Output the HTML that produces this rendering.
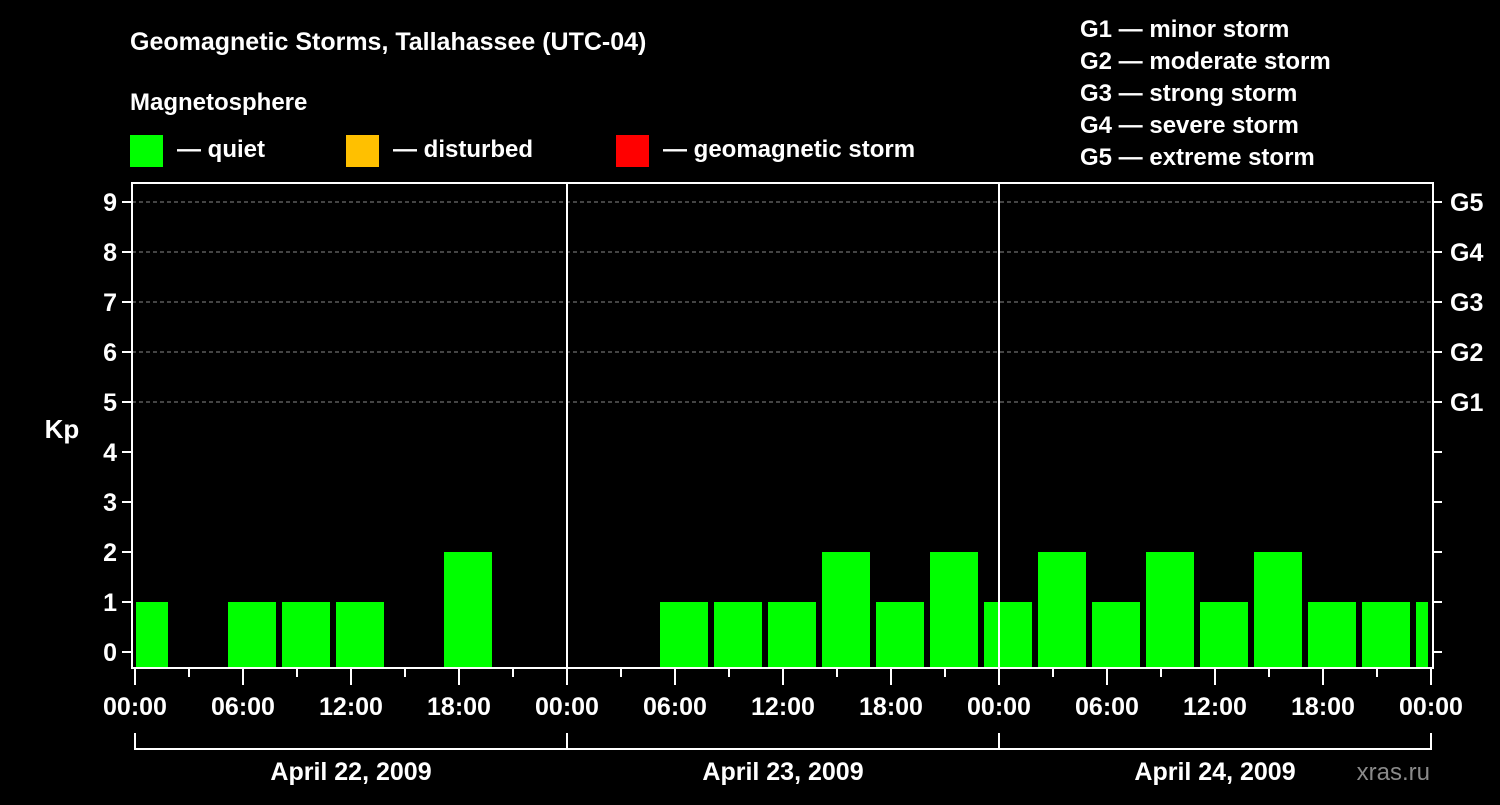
<!DOCTYPE html>
<html><head><meta charset="utf-8"><style>
body{margin:0;background:#000;width:1500px;height:800px;overflow:hidden}
svg text{font-family:"Liberation Sans",sans-serif;font-weight:bold;fill:#fff}
</style></head><body>
<svg id="c" width="1500" height="800" xmlns="http://www.w3.org/2000/svg">
<rect width="1500" height="800" fill="#000"/>
<text x="130" y="50" font-size="25">Geomagnetic Storms, Tallahassee (UTC-04)</text>
<text x="130" y="110" font-size="24">Magnetosphere</text>
<g><rect x="130" y="135" width="33" height="32" fill="#00ff00"/><text x="177" y="157" font-size="24">— quiet</text></g>
<g><rect x="346" y="135" width="33" height="32" fill="#ffc000"/><text x="393" y="157" font-size="24">— disturbed</text></g>
<g><rect x="616" y="135" width="33" height="32" fill="#ff0000"/><text x="663" y="157" font-size="24">— geomagnetic storm</text></g>
<g font-size="24">
<text x="1080" y="37">G1 — minor storm</text>
<text x="1080" y="69">G2 — moderate storm</text>
<text x="1080" y="101">G3 — strong storm</text>
<text x="1080" y="133">G4 — severe storm</text>
<text x="1080" y="165">G5 — extreme storm</text>
</g>
<g id="plot"></g>
<text x="62" y="438" font-size="26" text-anchor="middle">Kp</text>
<text x="1430" y="780" font-size="24" text-anchor="end" fill="#888" style="fill:#8a8a8a;font-weight:normal">xras.ru</text>
</svg>
<script>
// Kp values per 3h slot; slot i starts at local hour -1 + 3*i on April 22 (UTC-04)
const kpValues=[1,null,1,1,1,null,2,null,null,null,1,1,1,2,1,2,1,2,1,2,1,2,1,1,1];
const dayLabels=["April 22, 2009","April 23, 2009","April 24, 2009"];
const timeLabels=["00:00","06:00","12:00","18:00"];
const yTicks=[0,1,2,3,4,5,6,7,8,9];
const gLabels=["G1","G2","G3","G4","G5"];
const slotStartHour=-1, slotHours=3;

const NS="http://www.w3.org/2000/svg";
const g=document.getElementById('plot');
const X0=135,PXH=18,L=132,R=1433,T=183,B=668;
const xs=h=>X0+h*PXH;
const ys=v=>652-v*50;
const totalH=dayLabels.length*24;
function mk(tag,at,parent){const e=document.createElementNS(NS,tag);for(const k in at)e.setAttribute(k,at[k]);(parent||g).appendChild(e);return e;}

// gridlines
yTicks.forEach(v=>{if(v>=5){const l=mk('line',{x1:L,x2:R,y1:ys(v),y2:ys(v),stroke:'#888','stroke-dasharray':'4,3','stroke-width':1});

}});
// bars
kpValues.forEach((v,i)=>{if(v===null)return;
 let h0=Math.max(0,slotStartHour+i*slotHours),h1=Math.min(totalH,slotStartHour+(i+1)*slotHours);
 let x0=xs(h0)+(h0===0?1:3),x1=xs(h1)-3;
 const r=mk('rect',{x:x0,y:ys(v),width:x1-x0,height:B-ys(v),fill:'#00ff00'});
 
 });
// day separators
for(let d=1;d<dayLabels.length;d++){const l=mk('line',{x1:xs(d*24),x2:xs(d*24),y1:T,y2:B,stroke:'#fff','stroke-width':2});
 
 }
// frame
const fr=mk('rect',{x:L,y:T,width:R-L,height:B-T,fill:'none',stroke:'#fff','stroke-width':2});


// y ticks and labels
yTicks.forEach(v=>{
 mk('line',{x1:122,x2:L,y1:ys(v),y2:ys(v),stroke:'#fff','stroke-width':2});
 mk('line',{x1:R,x2:1442,y1:ys(v),y2:ys(v),stroke:'#fff','stroke-width':2});
 const t=mk('text',{x:117,y:ys(v)+9,'font-size':25,'text-anchor':'end'});t.textContent=v;
 
 
 if(v>=5){const gt=mk('text',{x:1450,y:ys(v)+9,'font-size':25});gt.textContent=gLabels[v-5];
 
 }
});
// x ticks
for(let h=0;h<=totalH;h+=3){const long=h%6===0;
 mk('line',{x1:xs(h),x2:xs(h),y1:B,y2:long?685:677,stroke:'#fff','stroke-width':2});
 if(long){const t=mk('text',{x:xs(h),y:715,'font-size':25,'text-anchor':'middle'});t.textContent=timeLabels[(h%24)/6];
 
 }}
// date bracket
mk('line',{x1:xs(0),x2:xs(totalH),y1:749,y2:749,stroke:'#fff','stroke-width':2});
for(let d=0;d<=dayLabels.length;d++)mk('line',{x1:xs(d*24),x2:xs(d*24),y1:733,y2:750,stroke:'#fff','stroke-width':2});
dayLabels.forEach((s,d)=>{const t=mk('text',{x:xs(d*24+12),y:780,'font-size':25,'text-anchor':'middle'});t.textContent=s;
 
 });
</script>
</body></html>
